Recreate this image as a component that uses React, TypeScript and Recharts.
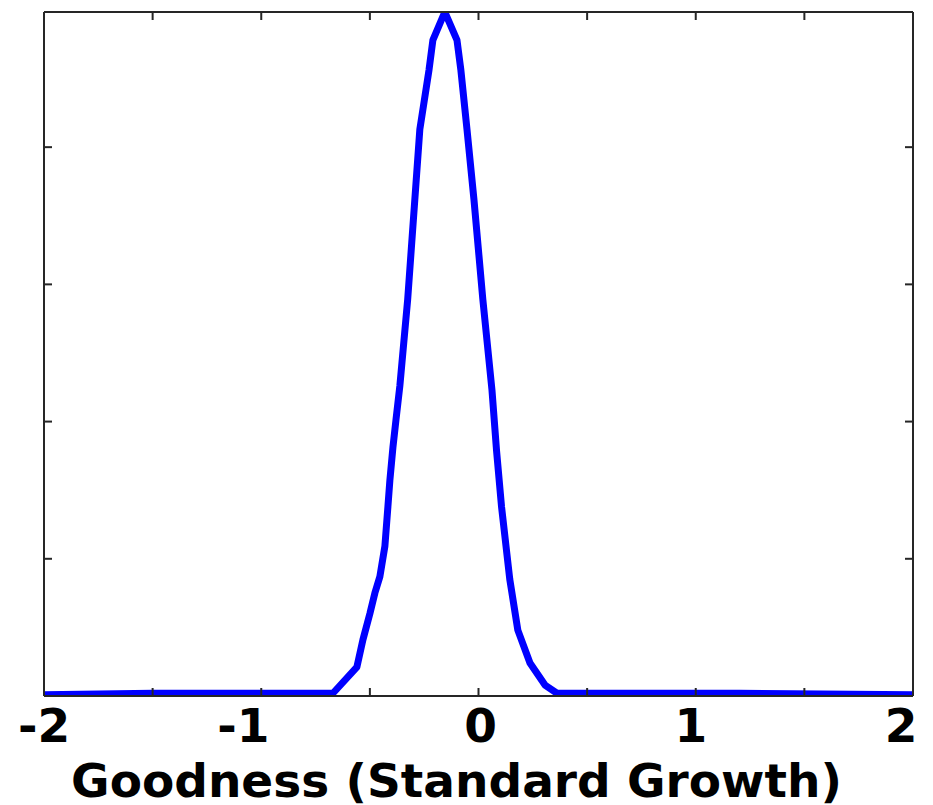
import React from 'react';
import { LineChart, Line, XAxis, YAxis } from 'recharts';

// Goodness (x) and estimated density (y)
const goodness = [
  -2.0, -1.5, -0.67, -0.56, -0.532, -0.5, -0.477, -0.454, -0.431, -0.417, -0.408,
  -0.394, -0.38, -0.362, -0.326, -0.293, -0.27, -0.228, -0.21, -0.155,
  -0.099, -0.081, -0.053, -0.021, 0.02, 0.062, 0.083, 0.106, 0.144, 0.181,
  0.237, 0.306, 0.361, 1.2, 2.0,
];
const density = [
  0.01, 0.02, 0.02, 0.21, 0.41, 0.6, 0.75, 0.87, 1.09, 1.38, 1.57,
  1.81, 2.01, 2.26, 2.89, 3.62, 4.13, 4.56, 4.78, 4.985,
  4.78, 4.56, 4.13, 3.62, 2.89, 2.23, 1.79, 1.38, 0.85, 0.48,
  0.24, 0.08, 0.02, 0.02, 0.01,
];

const xTicks = [-2, -1.5, -1, -0.5, 0, 0.5, 1, 1.5, 2];
const xTickLabels = [-2, -1, 0, 1, 2];
const yTicks = [0, 1, 2, 3, 4];
const xDomain = [-2, 2];
const yDomain = [0, 4.985];
const xAxisTitle = 'Goodness (Standard Growth)';

const data = goodness.map((g, i) => ({ goodness: g, density: density[i] }));

const labelNudge: Record<string, number> = { '-2': 0, '-1': -18, '0': 2, '1': -5, '2': -12 };

const FONT = '"DejaVu Sans", sans-serif';
const FRAME = '#262626';

const XTick = (props: any) => {
  const { x, y, payload } = props;
  const v = payload.value;
  if (!xTickLabels.includes(v)) return <g />;
  return (
    <text
      x={x + (labelNudge[String(v)] ?? 0)}
      y={y}
      dy={54}
      textAnchor="middle"
      fontFamily={FONT}
      fontWeight="bold"
      fontSize={47}
      fill="#000"
    >
      {String(v)}
    </text>
  );
};

const NoLabel = () => <g />;

export default function App() {
  return (
    <div style={{ position: 'absolute', left: 0, top: 0, background: '#fff' }}>
      <LineChart
        width={933}
        height={805}
        data={data}
        margin={{ top: 11, right: 19, bottom: 0, left: 43 }}
      >
        <Line
          type="linear"
          dataKey="density"
          xAxisId="top"
          yAxisId="right"
          stroke="none"
          strokeWidth={0}
          dot={false}
          activeDot={false}
          isAnimationActive={false}
          legendType="none"
        />
        <Line
          type="linear"
          dataKey="density"
          xAxisId="bottom"
          yAxisId="left"
          stroke="#0000ff"
          strokeWidth={7}
          strokeLinejoin="round"
          dot={false}
          activeDot={false}
          isAnimationActive={false}
        />
        <XAxis
          xAxisId="bottom"
          dataKey="goodness"
          type="number"
          domain={xDomain}
          ticks={xTicks}
          orientation="bottom"
          height={109}
          tickSize={-8}
          tickMargin={0}
          axisLine={{ stroke: FRAME, strokeWidth: 2 }}
          tickLine={{ stroke: FRAME, strokeWidth: 2 }}
          tick={<XTick />}
          interval={0}
          allowDataOverflow
          label={{
            value: xAxisTitle,
            position: 'insideBottom',
            offset: 8,
            dx: -22,
            style: { fontFamily: FONT, fontWeight: 'bold', fontSize: 47, fill: '#000' },
          }}
        />
        <XAxis
          xAxisId="top"
          dataKey="goodness"
          type="number"
          domain={xDomain}
          ticks={xTicks}
          orientation="top"
          height={1}
          tickSize={-8}
          axisLine={{ stroke: FRAME, strokeWidth: 2 }}
          tickLine={{ stroke: FRAME, strokeWidth: 2 }}
          tick={<NoLabel />}
          interval={0}
          allowDataOverflow
        />
        <YAxis
          yAxisId="left"
          type="number"
          domain={yDomain}
          ticks={yTicks}
          orientation="left"
          width={1}
          tickSize={-8}
          axisLine={{ stroke: FRAME, strokeWidth: 2 }}
          tickLine={{ stroke: FRAME, strokeWidth: 2 }}
          tick={<NoLabel />}
          interval={0}
          allowDataOverflow
        />
        <YAxis
          yAxisId="right"
          type="number"
          domain={yDomain}
          ticks={yTicks}
          orientation="right"
          width={1}
          tickSize={-8}
          axisLine={{ stroke: FRAME, strokeWidth: 2 }}
          tickLine={{ stroke: FRAME, strokeWidth: 2 }}
          tick={<NoLabel />}
          interval={0}
          allowDataOverflow
        />
      </LineChart>
    </div>
  );
}
